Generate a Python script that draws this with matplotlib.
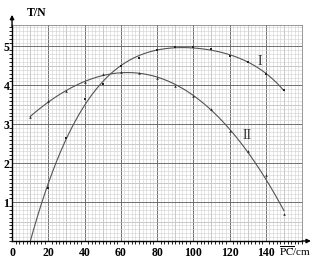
import numpy as np
import matplotlib.pyplot as plt

# 读图得到的数据点 (PC/cm, T/N)
x1 = [20, 30, 40, 50, 60, 70, 80, 90, 100, 110, 120, 130, 140, 150]
t1 = [1.35, 2.65, 3.64, 4.04, 4.49, 4.71, 4.90, 4.98, 4.98, 4.94, 4.76, 4.59, 4.30, 3.87]
x2 = [10, 20, 30, 40, 50, 60, 70, 80, 90, 100, 110, 120, 130, 140, 150]
t2 = [3.18, 3.59, 3.86, 4.09, 4.29, 4.34, 4.32, 4.18, 3.98, 3.73, 3.38, 2.83, 2.32, 1.69, 0.70]
# curve I crosses the axis here
x1_zero, t1_zero = 9.8, 0.0

xticks = [0, 20, 40, 60, 80, 100, 120, 140]
yticks = [1, 2, 3, 4, 5]

plt.rcParams['font.family'] = ['Liberation Serif', 'DejaVu Serif']
plt.rcParams['mathtext.fontset'] = 'stix'

fig = plt.figure(figsize=(3.17, 2.59), dpi=100)
ax = fig.add_axes([0.038, 0.0695, 0.915, 0.834])
ax.set_xlim(0, 160)
ax.set_ylim(0, 5.55)

# 坐标纸网格
ax.set_xticks(np.arange(0, 161, 2), minor=True)
ax.set_yticks(np.arange(0, 5.56, 0.1), minor=True)
ax.set_xticks(xticks)
ax.set_yticks(yticks)
ax.grid(which='minor', color='#cfcfcf', lw=0.4)
ax.grid(which='major', color='#707070', lw=0.7)
for v in range(10, 160, 20):
    ax.axvline(v, color='#a8a8a8', lw=0.5, zorder=0.5)
for v in np.arange(0.5, 5.5, 1):
    ax.axhline(v, color='#a8a8a8', lw=0.5, zorder=0.5)
ax.axvline(160, color='#707070', lw=0.7)
ax.set_axisbelow(True)

ax.set_xticklabels([str(v) for v in xticks], fontsize=8.5, fontweight='bold')
ax.set_yticklabels([str(v) for v in yticks], fontsize=8.5, fontweight='bold')
ax.tick_params(length=0, pad=4)
ax.tick_params(axis='y', pad=2)

for s in ['top', 'right']:
    ax.spines[s].set_color('#888888')
    ax.spines[s].set_linewidth(0.6)
for s in ['left', 'bottom']:
    ax.spines[s].set_linewidth(1.0)

# 拟合曲线
xa = np.array([x1_zero] + x1)
ta = np.array([t1_zero] + t1)
p1 = np.polyfit(xa, ta, 5)
xs1 = np.linspace(x1_zero, 150, 200)
ax.plot(xs1, np.polyval(p1, xs1), color='#555555', lw=0.8)

p2 = np.polyfit(x2, t2, 3)
xs2 = np.linspace(10, 150, 200)
ax.plot(xs2, np.polyval(p2, xs2), color='#555555', lw=0.8)

ax.plot(x1, t1, 's', color='#222222', ms=1.6, mew=0)
ax.plot(x2, t2, '^', color='#222222', ms=1.8, mew=0)

ax.text(136.5, 4.62, 'I', fontsize=10, ha='center', va='center', color='#333333')
ax.text(129.5, 2.72, 'II', fontsize=10, ha='center', va='center', color='#333333')

# 坐标轴箭头
ax.annotate('', xy=(0, 1.06), xytext=(0, 0.98), xycoords='axes fraction',
            arrowprops=dict(arrowstyle='-|>', color='black', lw=1.0, mutation_scale=6),
            annotation_clip=False)
ax.annotate('', xy=(1.04, 0), xytext=(0.99, 0), xycoords='axes fraction',
            arrowprops=dict(arrowstyle='-|>', color='black', lw=1.0, mutation_scale=6),
            annotation_clip=False)
ax.text(0.05, 1.055, 'T/N', transform=ax.transAxes, fontsize=8.5, fontweight='bold',
        ha='left', va='center')
ax.text(0.92, -0.045, r'$\overline{\mathrm{PC}}$/cm', transform=ax.transAxes, fontsize=8,
        ha='left', va='center')

fig.savefig('out.png', dpi=100)
